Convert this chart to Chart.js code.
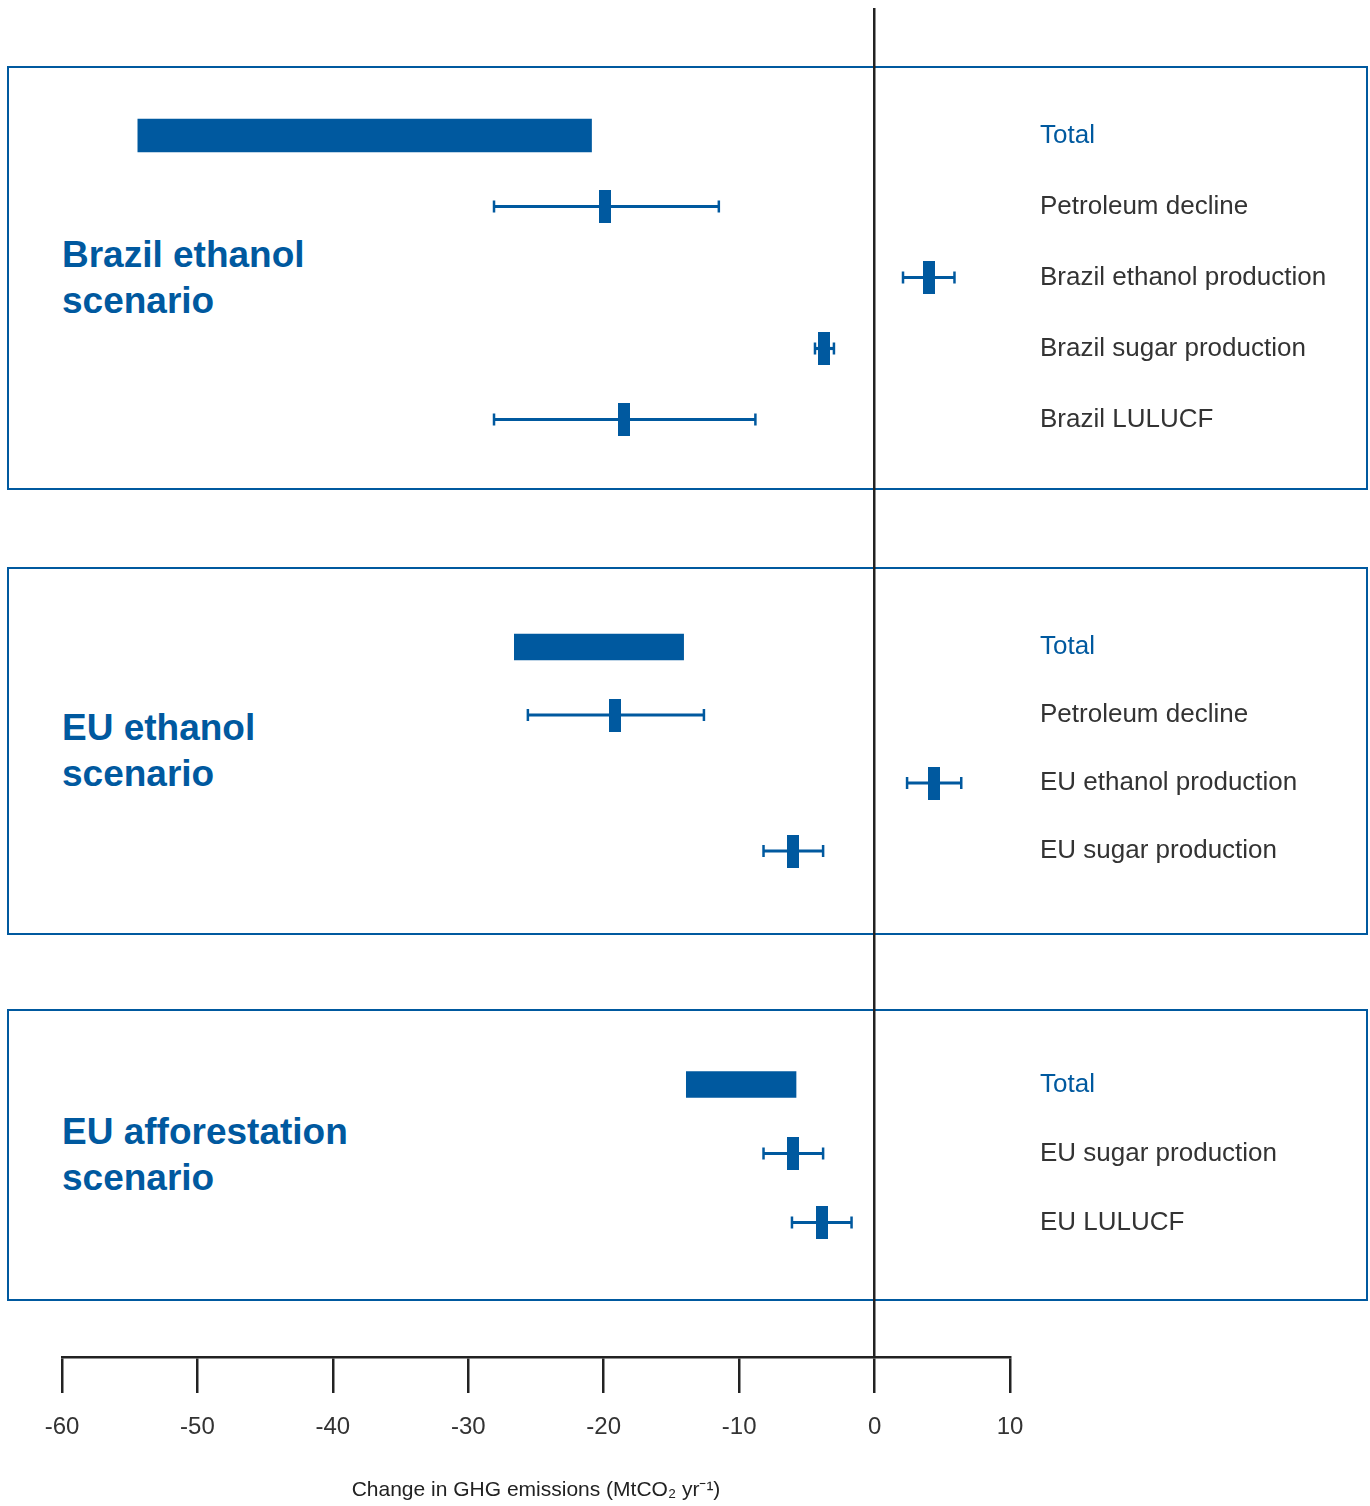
<!DOCTYPE html>
<html>
<head>
<meta charset="utf-8">
<title>Change in GHG emissions by scenario</title>
<script src="https://cdn.jsdelivr.net/npm/chart.js@4.4.1/dist/chart.umd.min.js"></script>
<style>
  html, body { margin: 0; padding: 0; background: #fff; }
  #page { position: relative; width: 1370px; height: 1506px; font-family: "Liberation Sans", Arial, sans-serif; }
  .panel { position: absolute; left: 7px; width: 1361px; box-sizing: border-box; border: 2.5px solid #00599f; }
  .scenario { position: absolute; left: 62px; font-weight: bold; font-size: 37px; line-height: 46px; color: #00599f; }
  canvas { position: absolute; left: 0; }
</style>
</head>
<body>
<div id="page">
  <div class="panel" style="top:66px;height:424px"></div>
  <div class="panel" style="top:567px;height:368px"></div>
  <div class="panel" style="top:1009px;height:292px"></div>

  <div class="scenario" style="top:232px">Brazil ethanol<br>scenario</div>
  <div class="scenario" style="top:705px">EU ethanol<br>scenario</div>
  <div class="scenario" style="top:1109px">EU afforestation<br>scenario</div>

  <canvas id="brazil" width="1370" height="422" style="top:67px"></canvas>
  <canvas id="euEthanol" width="1370" height="366" style="top:568px"></canvas>
  <canvas id="euForest" width="1370" height="290" style="top:1010px"></canvas>
  <canvas id="axis" width="1370" height="1506" style="top:0"></canvas>
</div>

<script>
// x axis range (MtCO2 per year)
const xMin = -60;
const xMax = 10;
const xStep = 10;

// Brazil ethanol scenario
const brazilRows = ['Total', 'Petroleum decline', 'Brazil ethanol production', 'Brazil sugar production', 'Brazil LULUCF'];
const brazilTotal = [-54.4, -20.9];
const brazilLow = [null, -28.1, 2.1, -4.4, -28.1];
const brazilMid = [null, -19.9, 4.0, -3.7, -18.5];
const brazilHigh = [null, -11.5, 5.9, -3.0, -8.8];

// EU ethanol scenario
const euEthRows = ['Total', 'Petroleum decline', 'EU ethanol production', 'EU sugar production'];
const euEthTotal = [-26.6, -14.1];
const euEthLow = [null, -25.6, 2.4, -8.2];
const euEthMid = [null, -19.2, 4.4, -6.0];
const euEthHigh = [null, -12.6, 6.4, -3.8];

// EU afforestation scenario
const euForRows = ['Total', 'EU sugar production', 'EU LULUCF'];
const euForTotal = [-13.9, -5.8];
const euForLow = [null, -8.2, -6.1];
const euForMid = [null, -6.0, -3.9];
const euForHigh = [null, -3.8, -1.7];

const BLUE = '#00599f';
const INK = '#222';
const FONT = '"Liberation Sans", Arial, sans-serif';

// small filled box used as the central estimate marker
function markerImage() {
    const c = document.createElement('canvas');
    c.width = 12;
    c.height = 33;
    const g = c.getContext('2d');
    g.fillStyle = BLUE;
    g.fillRect(0, 0, 12, 33);
    return c;
}
const marker = markerImage();

function makePanel(id, rows, total, low, mid, high, padTop, padBottom, totalThickness) {
    const mids = [];
    const caps = [];
    rows.forEach((r, i) => {
        if (mid[i] == null) return;
        mids.push({ x: mid[i], y: r });
        caps.push({ x: low[i], y: r });
        caps.push({ x: high[i], y: r });
    });

    new Chart(document.getElementById(id), {
        type: 'bar',
        data: {
            labels: rows,
            datasets: [
                {
                    type: 'line',
                    data: mids,
                    showLine: false,
                    pointStyle: marker,
                    pointRadius: 6
                },
                {
                    type: 'line',
                    data: caps,
                    showLine: false,
                    pointStyle: 'line',
                    pointRotation: 90,
                    pointRadius: 6,
                    pointBorderWidth: 2.5,
                    pointBorderColor: BLUE
                },
                {
                    data: rows.map((r, i) => low[i] == null ? null : [low[i], high[i]]),
                    backgroundColor: BLUE,
                    barThickness: 2.5,
                    grouped: false
                },
                {
                    data: rows.map((r, i) => i === 0 ? total : null),
                    backgroundColor: BLUE,
                    barThickness: totalThickness,
                    grouped: false
                }
            ]
        },
        options: {
            indexAxis: 'y',
            responsive: false,
            animation: false,
            events: [],
            layout: { padding: { left: 62, right: 0, top: padTop, bottom: padBottom } },
            plugins: { legend: { display: false }, tooltip: { enabled: false } },
            scales: {
                x: { type: 'linear', min: xMin, max: xMax, display: false },
                y: {
                    position: 'right',
                    grid: { display: false, drawTicks: false },
                    border: { display: false },
                    ticks: {
                        padding: 30,
                        color: ctx => ctx.index === 0 ? BLUE : '#333',
                        font: { family: FONT, size: 26 }
                    },
                    afterFit(scale) {
                        // fixed label column; rows fill the whole plot height
                        scale.width = 360;
                        scale.paddingTop = 0;
                        scale.paddingBottom = 0;
                    }
                }
            }
        }
    });
}

makePanel('brazil', brazilRows, brazilTotal, brazilLow, brazilMid, brazilHigh, 33, 34, 33);
makePanel('euEthanol', euEthRows, euEthTotal, euEthLow, euEthMid, euEthHigh, 45, 49, 26);
makePanel('euForest', euForRows, euForTotal, euForLow, euForMid, euForHigh, 40, 43, 26);

// shared x axis with the zero line running through all panels
new Chart(document.getElementById('axis'), {
    type: 'line',
    data: { datasets: [] },
    options: {
        responsive: false,
        animation: false,
        events: [],
        layout: { padding: { left: 62, right: 360, top: 8, bottom: 0 } },
        plugins: { legend: { display: false }, tooltip: { enabled: false } },
        scales: {
            x: {
                type: 'linear',
                min: xMin,
                max: xMax,
                ticks: {
                    stepSize: xStep,
                    padding: 20,
                    color: '#333',
                    font: { family: FONT, size: 24 },
                    callback: v => String(v)
                },
                grid: {
                    color: ctx => ctx.tick && ctx.tick.value === 0 ? INK : 'rgba(0,0,0,0)',
                    lineWidth: 2.5,
                    tickColor: INK,
                    tickWidth: 2.5,
                    tickLength: 36,
                    drawOnChartArea: true
                },
                border: { display: true, color: INK, width: 2.5 },
                title: {
                    display: true,
                    text: 'Change in GHG emissions (MtCO\u2082 yr\u207B\u00B9)',
                    color: INK,
                    font: { family: FONT, size: 21 },
                    padding: { top: 0, bottom: 3 }
                },
                afterFit(scale) { scale.height = 149; }
            },
            y: { type: 'linear', display: false, min: 0, max: 1 }
        }
    }
});
</script>
</body>
</html>
